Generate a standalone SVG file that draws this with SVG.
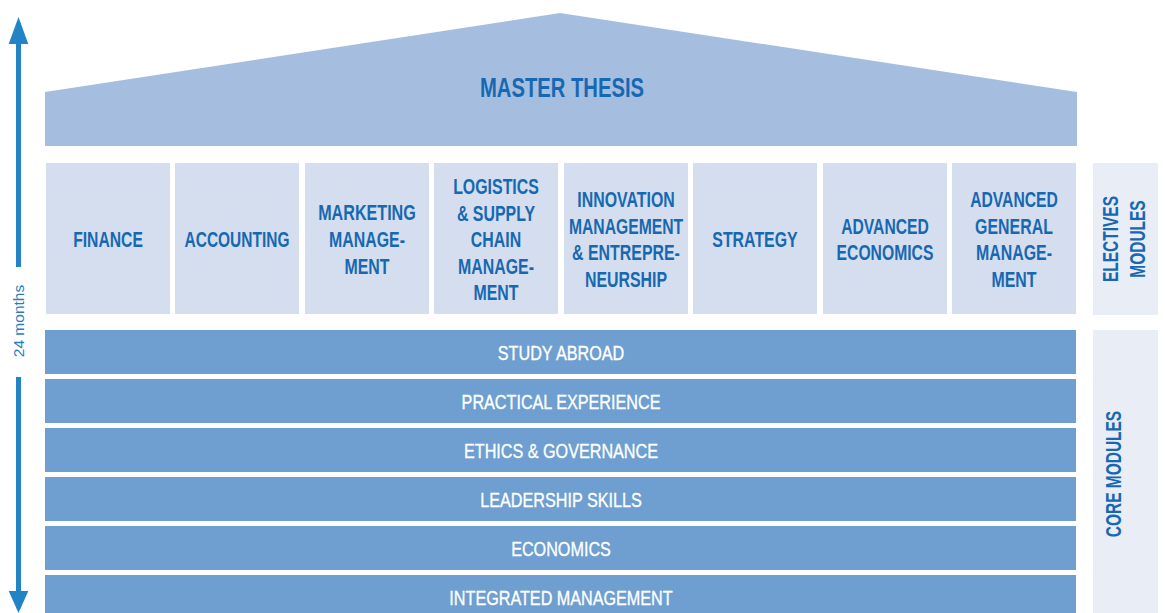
<svg xmlns="http://www.w3.org/2000/svg" width="1165" height="613" viewBox="0 0 1165 613">
<style>
.roof{fill:#A5BEDF}
.el{fill:#D5DEEE}
.core{fill:#6E9FD0}
.side{fill:#E9EDF6}
.bt{font-family:"Liberation Sans",Arial,sans-serif;font-weight:bold;font-size:21.5px;fill:#1768B2;text-anchor:middle}
.wt{font-family:"Liberation Sans",Arial,sans-serif;font-size:21px;fill:#FFFFFF;stroke:#FFFFFF;stroke-width:0.35;text-anchor:middle}
.mt{font-size:27px}
.arrow{fill:#2284C5}
</style>
<rect width="1165" height="613" fill="#FFFFFF"/>
<g id="timeline">
<rect class="arrow" x="16" y="40" width="5" height="227"/>
<polygon class="arrow" points="18.5,17 8.7,44 28.3,44"/>
<rect class="arrow" x="16" y="377" width="5" height="218"/>
<polygon class="arrow" points="18.5,613 8.7,591 28.3,591"/>
<text transform="translate(23.5,321) rotate(-90)" style="font-family:'Liberation Sans',Arial,sans-serif;font-size:15.5px;fill:#2A7DBF;text-anchor:middle">24 months</text>
</g>
<g id="master-thesis">
<polygon class="roof" points="45,92 560,13 1077,92 1077,146 45,146"/>
<text class="bt mt" transform="translate(562,97) scale(0.75,1)">MASTER THESIS</text>
</g>
<g id="finance">
<rect class="el" x="46" y="163" width="124" height="151"/>
<text class="bt" transform="translate(108,247) scale(0.73,1)">FINANCE</text>
</g>
<g id="accounting">
<rect class="el" x="175" y="163" width="124" height="151"/>
<text class="bt" transform="translate(237,247) scale(0.72,1)">ACCOUNTING</text>
</g>
<g id="marketing">
<rect class="el" x="305" y="163" width="124" height="151"/>
<text class="bt" transform="translate(367,220) scale(0.75,1)">MARKETING</text>
<text class="bt" transform="translate(367,247) scale(0.74,1)">MANAGE-</text>
<text class="bt" transform="translate(367,274) scale(0.74,1)">MENT</text>
</g>
<g id="logistics">
<rect class="el" x="434" y="163" width="124" height="151"/>
<text class="bt" transform="translate(496,194) scale(0.74,1)">LOGISTICS</text>
<text class="bt" transform="translate(496,221) scale(0.74,1)">&amp; SUPPLY</text>
<text class="bt" transform="translate(496,247) scale(0.74,1)">CHAIN</text>
<text class="bt" transform="translate(496,274) scale(0.74,1)">MANAGE-</text>
<text class="bt" transform="translate(496,300) scale(0.74,1)">MENT</text>
</g>
<g id="innovation">
<rect class="el" x="564" y="163" width="124" height="151"/>
<text class="bt" transform="translate(626,207) scale(0.74,1)">INNOVATION</text>
<text class="bt" transform="translate(626,234) scale(0.73,1)">MANAGEMENT</text>
<text class="bt" transform="translate(626,260) scale(0.74,1)">&amp; ENTREPRE-</text>
<text class="bt" transform="translate(626,287) scale(0.74,1)">NEURSHIP</text>
</g>
<g id="strategy">
<rect class="el" x="693" y="163" width="124" height="151"/>
<text class="bt" transform="translate(755,247) scale(0.74,1)">STRATEGY</text>
</g>
<g id="advanced-economics">
<rect class="el" x="823" y="163" width="124" height="151"/>
<text class="bt" transform="translate(885,234) scale(0.73,1)">ADVANCED</text>
<text class="bt" transform="translate(885,260) scale(0.73,1)">ECONOMICS</text>
</g>
<g id="advanced-general-management">
<rect class="el" x="952" y="163" width="124" height="151"/>
<text class="bt" transform="translate(1014,207) scale(0.73,1)">ADVANCED</text>
<text class="bt" transform="translate(1014,234) scale(0.74,1)">GENERAL</text>
<text class="bt" transform="translate(1014,260) scale(0.74,1)">MANAGE-</text>
<text class="bt" transform="translate(1014,287) scale(0.74,1)">MENT</text>
</g>
<g id="electives-label">
<rect class="side" x="1093" y="163" width="65" height="152"/>
<text class="bt" transform="translate(1118,239) rotate(-90) scale(0.72,1)">ELECTIVES</text>
<text class="bt" transform="translate(1145,239) rotate(-90) scale(0.72,1)">MODULES</text>
</g>
<g id="study-abroad">
<rect class="core" x="45" y="330" width="1031" height="44"/>
<text class="wt" transform="translate(561,360) scale(0.77,1)">STUDY ABROAD</text>
</g>
<g id="practical-experience">
<rect class="core" x="45" y="379" width="1031" height="44"/>
<text class="wt" transform="translate(561,409) scale(0.77,1)">PRACTICAL EXPERIENCE</text>
</g>
<g id="ethics-governance">
<rect class="core" x="45" y="428" width="1031" height="44"/>
<text class="wt" transform="translate(561,458) scale(0.77,1)">ETHICS &amp; GOVERNANCE</text>
</g>
<g id="leadership-skills">
<rect class="core" x="45" y="477" width="1031" height="44"/>
<text class="wt" transform="translate(561,507) scale(0.77,1)">LEADERSHIP SKILLS</text>
</g>
<g id="economics">
<rect class="core" x="45" y="526" width="1031" height="44"/>
<text class="wt" transform="translate(561,556) scale(0.77,1)">ECONOMICS</text>
</g>
<g id="integrated-management">
<rect class="core" x="45" y="575" width="1031" height="44"/>
<text class="wt" transform="translate(561,605) scale(0.77,1)">INTEGRATED MANAGEMENT</text>
</g>
<g id="core-label">
<rect class="side" x="1093" y="330" width="65" height="283"/>
<text class="bt" transform="translate(1121,474) rotate(-90) scale(0.72,1)">CORE MODULES</text>
</g>
<g id="connectors"/>
</svg>
